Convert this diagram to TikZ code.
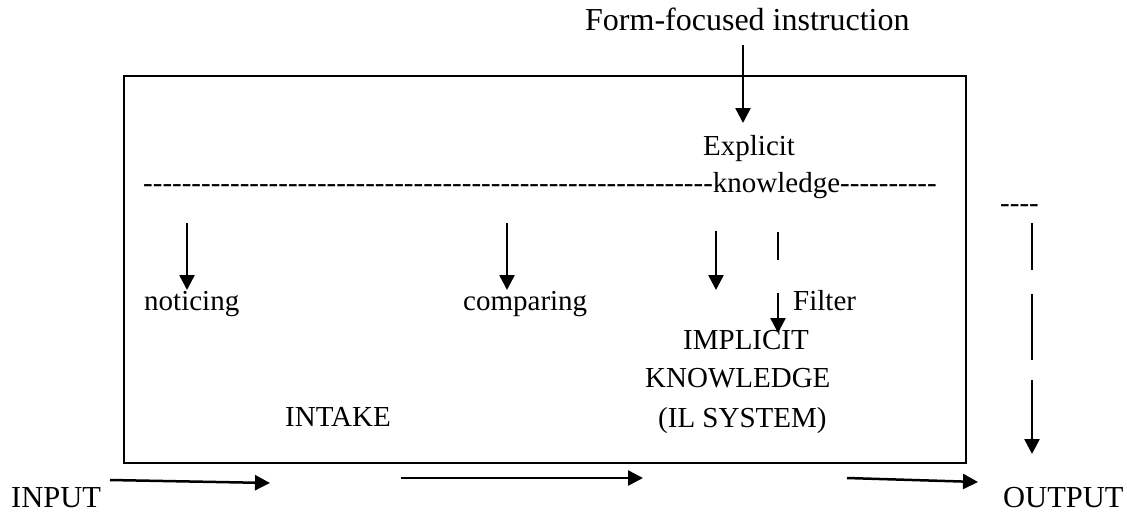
\documentclass[tikz,border=0pt]{standalone}
\usepackage{fontspec}
\setmainfont{Liberation Serif}[Ligatures=TeXOff]
\usetikzlibrary{arrows.meta}
\begin{document}
\begin{tikzpicture}[x=1pt,y=-1pt,
  txt/.style={inner sep=0pt,anchor=base west,font=\fontsize{29}{34}\selectfont},
  bigtxt/.style={txt,font=\fontsize{30.5}{36}\selectfont},
  arr/.style={line width=2.5pt,-{Triangle[length=15pt,width=15pt]}},
  seg/.style={line width=2.5pt},
  frame/.style={line width=2pt}]
\useasboundingbox (0,0) rectangle (1127,512);
\draw[frame] (124,76) rectangle (966,463);
% texts
\node[txt,font=\fontsize{32}{38}\selectfont] (ffi) at (585,30) {Form-focused instruction};
\node[txt] (expl) at (703,155) {Explicit};
\node[txt] (dashrow) at (143,192) {-----------------------------------------------------------knowledge----------};
\node[txt] (notic) at (144,310) {noticing};
\node[txt] (comp) at (463,310) {comparing};
\node[txt] (filt) at (793,310) {Filter};
\node[txt] (impl) at (683,349) {IMPLICIT};
\node[txt] (know) at (645,387) {KNOWLEDGE};
\node[txt] (ilsys) at (658,427) {(IL SYSTEM)};
\node[txt] (intake) at (285,426) {INTAKE};
\node[bigtxt] (input) at (11,507) {INPUT};
\node[bigtxt] (output) at (1003,507) {OUTPUT};
\node[txt] (rdash) at (1000,212) {----};
% connector ends
\coordinate (f1) at (743,45);  \coordinate (f2) at (743,123);
\coordinate (n1) at (187,223); \coordinate (n2) at (187,290);
\coordinate (c1) at (507,223); \coordinate (c2) at (507,290);
\coordinate (k1) at (716,231); \coordinate (k2) at (716,290);
\coordinate (s1) at (778,232); \coordinate (s2) at (778,260);
\coordinate (s3) at (778,293); \coordinate (s4) at (778,333);
\coordinate (r1) at (1032,223); \coordinate (r2) at (1032,270);
\coordinate (r3) at (1032,294); \coordinate (r4) at (1032,360);
\coordinate (r5) at (1032,380); \coordinate (r6) at (1032,454);
\coordinate (b1) at (110,480); \coordinate (b2) at (270,483);
\coordinate (b3) at (401,478); \coordinate (b4) at (643,478);
\coordinate (b5) at (847,478); \coordinate (b6) at (978,482);
% arrows
\draw[arr] (f1) -- (f2);
\draw[arr] (n1) -- (n2);
\draw[arr] (c1) -- (c2);
\draw[arr] (k1) -- (k2);
\draw[seg] (s1) -- (s2);
\draw[arr] (s3) -- (s4);
\draw[seg] (r1) -- (r2);
\draw[seg] (r3) -- (r4);
\draw[arr] (r5) -- (r6);
\draw[arr] (b1) -- (b2);
\draw[arr] (b3) -- (b4);
\draw[arr] (b5) -- (b6);
\end{tikzpicture}
\end{document}
